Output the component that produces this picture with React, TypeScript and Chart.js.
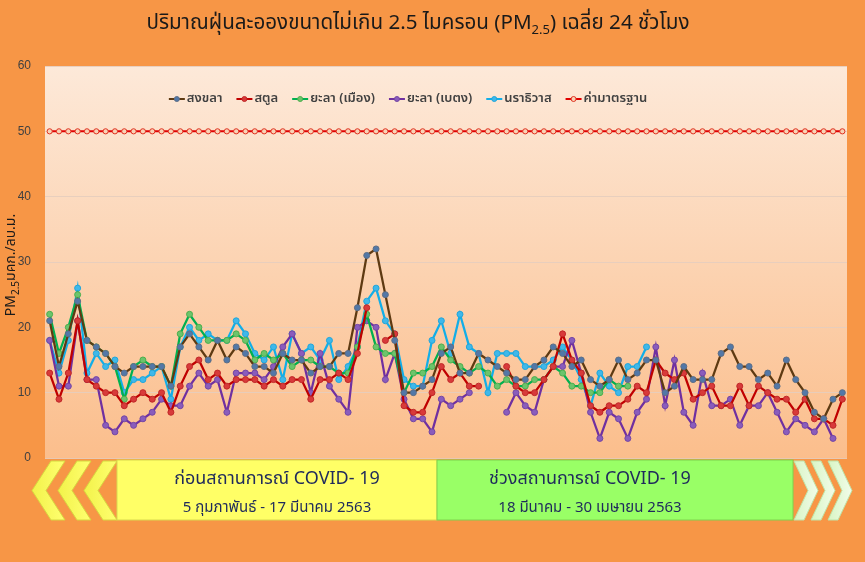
import React, { useEffect, useRef } from "react";
import { Chart, registerables } from "chart.js";

Chart.register(...registerables);

const FONT = "'Noto Sans Thai', 'Leelawadee UI', Tahoma, 'Noto Sans', 'DejaVu Sans', sans-serif";

// 5 Feb – 30 Apr 2563 (86 days)
const categories = [
  "5 ก.พ.", "6 ก.พ.", "7 ก.พ.", "8 ก.พ.", "9 ก.พ.", "10 ก.พ.", "11 ก.พ.", "12 ก.พ.", "13 ก.พ.", "14 ก.พ.",
  "15 ก.พ.", "16 ก.พ.", "17 ก.พ.", "18 ก.พ.", "19 ก.พ.", "20 ก.พ.", "21 ก.พ.", "22 ก.พ.", "23 ก.พ.", "24 ก.พ.",
  "25 ก.พ.", "26 ก.พ.", "27 ก.พ.", "28 ก.พ.", "29 ก.พ.",
  "1 มี.ค.", "2 มี.ค.", "3 มี.ค.", "4 มี.ค.", "5 มี.ค.", "6 มี.ค.", "7 มี.ค.", "8 มี.ค.", "9 มี.ค.", "10 มี.ค.",
  "11 มี.ค.", "12 มี.ค.", "13 มี.ค.", "14 มี.ค.", "15 มี.ค.", "16 มี.ค.", "17 มี.ค.", "18 มี.ค.", "19 มี.ค.", "20 มี.ค.",
  "21 มี.ค.", "22 มี.ค.", "23 มี.ค.", "24 มี.ค.", "25 มี.ค.", "26 มี.ค.", "27 มี.ค.", "28 มี.ค.", "29 มี.ค.", "30 มี.ค.",
  "31 มี.ค.",
  "1 เม.ย.", "2 เม.ย.", "3 เม.ย.", "4 เม.ย.", "5 เม.ย.", "6 เม.ย.", "7 เม.ย.", "8 เม.ย.", "9 เม.ย.", "10 เม.ย.",
  "11 เม.ย.", "12 เม.ย.", "13 เม.ย.", "14 เม.ย.", "15 เม.ย.", "16 เม.ย.", "17 เม.ย.", "18 เม.ย.", "19 เม.ย.", "20 เม.ย.",
  "21 เม.ย.", "22 เม.ย.", "23 เม.ย.", "24 เม.ย.", "25 เม.ย.", "26 เม.ย.", "27 เม.ย.", "28 เม.ย.", "29 เม.ย.", "30 เม.ย.",
];

const songkhla = [
  21, 14, 19, 24, 18, 17, 16, 14, 13, 14, 14, 14, 14, 11, 17, 19, 17, 15, 18, 15,
  17, 16, 14, 14, 13, 16, 15, 15, 13, 14, 14, 16, 16, 23, 31, 32, 25, 18, 10, 10,
  11, 12, 16, 17, 13, 13, 16, 15, 14, 13, 12, 12, 14, 15, 17, 16, 14, 15, 12, 11,
  12, 15, 12, 13, 15, 15, 10, 11, 14, 12, 12, 12, 16, 17, 14, 14, 12, 13, 11, 15,
  12, 10, 7, 6, 9, 10,
];

const satun = [
  13, 9, 13, 21, 12, 11, 10, 10, 8, 9, 10, 9, 10, 7, 11, 14, 15, 12, 13, 11,
  12, 12, 12, 11, 12, 11, 12, 12, 9, 12, 12, 13, 12, 16, 23, null, 18, 19, 8, 7,
  7, 10, 14, 12, 13, 11, 11, null, null, 14, 11, 10, 10, 12, 14, 19, 15, 13, 8, 7,
  8, 8, 9, 11, 10, 15, 13, 12, 13, 9, 10, 11, 8, 8, 11, 8, 11, 10, 9, 9,
  7, 9, 6, 6, 5, 9,
];

const yalaMueang = [
  22, 16, 20, 25, 18, 17, 16, 14, 9, 14, 15, 14, 14, 11, 19, 22, 20, 18, 18, 18,
  19, 18, 15, 16, 15, 16, 14, 15, 15, 14, 14, 13, 13, 17, 22, 17, 16, 16, 10, 13,
  13, 14, 17, 15, 14, 13, 14, 13, 11, 12, 11, 11, 12, 12, 14, 13, 11, 11, 10, 10,
  12, 11, 11, null, null, null, null, null, null, null, null, null, null, null, null, null,
  null, null, null, null, null, null,
];

const yalaBetong = [
  18, 11, 11, 21, 12, 12, 5, 4, 6, 5, 6, 7, 9, 8, 8, 11, 13, 11, 12, 7,
  13, 13, 13, 12, 14, 17, 19, 16, 10, 16, 11, 9, 7, 20, 21, 20, 12, 16, 9, 6,
  6, 4, 9, 8, 9, 10, null, null, null, 7, 10, 8, 7, 12, 14, 14, 18, 13, 7, 3,
  7, 6, 3, 7, 9, 17, 8, 15, 7, 5, 13, 8, 8, 9, 5, 8, 8, 10, 7, 4,
  6, 5, 4, 6, 3, null,
];

const narathiwat = [
  18, 13, 18, 26, 13, 16, 14, 15, 10, 12, 12, 13, 14, 9, 17, 20, 18, 19, 18, 18,
  21, 19, 16, 15, 17, 12, 19, 16, 17, 15, 18, 12, 14, 17, 24, 26, 21, 19, 12, 11,
  11, 18, 21, 16, 22, 17, 16, 10, 16, 16, 16, 14, 14, 14, 15, 17, 15, 12, 8, 13,
  11, 10, 14, 14, 17, null, null, null, null, null, null, null, null, null, null, null,
  null, null, null, null, null, null,
];

const standard = [
  50, 50, 50, 50, 50, 50, 50, 50, 50, 50, 50, 50, 50, 50, 50, 50, 50, 50, 50, 50,
  50, 50, 50, 50, 50, 50, 50, 50, 50, 50, 50, 50, 50, 50, 50, 50, 50, 50, 50, 50,
  50, 50, 50, 50, 50, 50, 50, 50, 50, 50, 50, 50, 50, 50, 50, 50, 50, 50, 50, 50,
  50, 50, 50, 50, 50, 50, 50, 50, 50, 50, 50, 50, 50, 50, 50, 50, 50, 50, 50, 50,
  50, 50, 50, 50, 50, 50,
];

const seriesLabels = ["สงขลา", "สตูล", "ยะลา (เมือง)", "ยะลา (เบตง)", "นราธิวาส", "ค่ามาตรฐาน"];
const yTicks = { min: 0, max: 60, step: 10 };

const plotBg = {
  id: "plotBg",
  beforeDraw(chart: any) {
    const { ctx, chartArea } = chart;
    if (!chartArea) return;
    ctx.save();
    const g = ctx.createLinearGradient(0, chartArea.top, 0, chartArea.bottom);
    g.addColorStop(0, "#FDE9D9");
    g.addColorStop(1, "#FBBE8C");
    ctx.fillStyle = g;
    ctx.fillRect(chartArea.left, chartArea.top, chartArea.right - chartArea.left, chartArea.bottom - chartArea.top);
    ctx.restore();
  },
};

const customLegend = {
  id: "customLegend",
  afterDraw(chart: any) {
    const ctx = chart.ctx;
    const dsets = chart.data.datasets;
    ctx.save();
    ctx.font = "600 13px " + FONT;
    ctx.textBaseline = "middle";
    const lineLen = 16;
    const gapText = 2;
    const gapItem = 14;
    const widths = dsets.map((d: any) => ctx.measureText(d.label).width);
    const total = widths.reduce((s: number, w: number) => s + lineLen + gapText + w, 0) + gapItem * (dsets.length - 1);
    let x = 408 - total / 2;
    const y = 99;
    dsets.forEach((d: any, i: number) => {
      ctx.strokeStyle = d.borderColor;
      ctx.lineWidth = 2;
      ctx.beginPath();
      ctx.moveTo(x, y);
      ctx.lineTo(x + lineLen, y);
      ctx.stroke();
      ctx.beginPath();
      ctx.arc(x + lineLen / 2, y, 2.5, 0, Math.PI * 2);
      ctx.fillStyle = d.pointBackgroundColor;
      ctx.fill();
      ctx.lineWidth = 1;
      ctx.strokeStyle = d.pointBorderColor;
      ctx.stroke();
      ctx.fillStyle = "#404040";
      ctx.fillText(d.label, x + lineLen + gapText, y);
      x += lineLen + gapText + widths[i] + gapItem;
    });
    ctx.restore();
  },
};

function mk(label: string, data: (number | null)[], line: string, pbg: string, pborder: string, width = 2.25, r = 3) {
  return {
    label,
    data,
    borderColor: line,
    backgroundColor: line,
    borderWidth: width,
    pointBackgroundColor: pbg,
    pointBorderColor: pborder,
    pointBorderWidth: 1,
    pointRadius: r,
    tension: 0,
    spanGaps: false,
    fill: false,
  };
}

function ChartView() {
  const ref = useRef<HTMLCanvasElement>(null);
  useEffect(() => {
    if (!ref.current) return;
    const chart = new Chart(ref.current, {
      type: "line",
      data: {
        labels: categories,
        datasets: [
          mk(seriesLabels[0], songkhla, "#5E3A12", "#5278A8", "#5D6E86"),
          mk(seriesLabels[1], satun, "#C00000", "#D83A3A", "#C02828"),
          mk(seriesLabels[2], yalaMueang, "#00B050", "#6CC46C", "#4DAE4D"),
          mk(seriesLabels[3], yalaBetong, "#7030A0", "#8A5CBC", "#7446A4"),
          mk(seriesLabels[4], narathiwat, "#12AEE8", "#3FB8EA", "#22A6DA"),
          mk(seriesLabels[5], standard, "#E00000", "#F9D3B6", "#E03020", 2, 2.6),
        ] as any,
      },
      options: {
        animation: false,
        responsive: false,
        maintainAspectRatio: false,
        layout: { padding: { top: 66, right: 18, bottom: 104, left: 0 } },
        plugins: {
          legend: { display: false },
          tooltip: { enabled: false },
          title: { display: false },
        },
        scales: {
          x: { display: false, offset: true },
          y: {
            min: yTicks.min,
            max: yTicks.max,
            afterFit: (axis: any) => {
              axis.width = 45;
            },
            ticks: {
              stepSize: yTicks.step,
              color: "#404040",
              padding: 14,
              font: { size: 12, family: "'Liberation Sans', Arial, sans-serif" },
            },
            grid: { color: "rgba(230,205,190,0.9)", drawTicks: false, lineWidth: 1 },
            border: { display: false },
          },
        },
      },
      plugins: [plotBg, customLegend],
    });
    return () => chart.destroy();
  }, []);
  return <canvas ref={ref} width={865} height={562} style={{ position: "absolute", left: 0, top: 0 }} />;
}

function ChevronLeft({ xl, y0, y1, d, t, fill, stroke }: any) {
  const ym = (y0 + y1) / 2;
  const pts = [
    [xl + d, y0], [xl + d + t, y0], [xl + t, ym], [xl + d + t, y1], [xl + d, y1], [xl, ym],
  ].map((p) => p.join(",")).join(" ");
  return <polygon points={pts} fill={fill} stroke={stroke} strokeWidth={1} />;
}

function ChevronRight({ xl, y0, y1, d, t, fill, stroke }: any) {
  const ym = (y0 + y1) / 2;
  const pts = [
    [xl, y0], [xl + t, y0], [xl + t + d, ym], [xl + t, y1], [xl, y1], [xl + d, ym],
  ].map((p) => p.join(",")).join(" ");
  return <polygon points={pts} fill={fill} stroke={stroke} strokeWidth={1} />;
}

export default function App() {
  const navy = "#1F2A5C";
  return (
    <div style={{ position: "fixed", left: 0, top: 0, width: 865, height: 562, background: "#F79646", overflow: "hidden", fontFamily: FONT }}>
      <ChartView />
      <div style={{ position: "absolute", left: 418, top: 7, transform: "translateX(-50%)", whiteSpace: "nowrap", fontSize: 20.6, color: "#1A1A1A" }}>
        ปริมาณฝุ่นละอองขนาดไม่เกิน 2.5 ไมครอน (PM<sub style={{ fontSize: 13 }}>2.5</sub>) เฉลี่ย 24 ชั่วโมง
      </div>
      <div style={{ position: "absolute", left: 12, top: 265, transform: "translate(-50%, -50%) rotate(-90deg)", whiteSpace: "nowrap", fontSize: 14, color: "#1A1A1A" }}>
        PM<sub style={{ fontSize: 10 }}>2.5</sub>มคก./ลบ.ม.
      </div>
      <svg width={865} height={562} style={{ position: "absolute", left: 0, top: 0 }}>
        <defs>
          <linearGradient id="yl" x1="0" y1="0" x2="1" y2="0">
            <stop offset="0" stopColor="#F2F24A" />
            <stop offset="1" stopColor="#FFFF70" />
          </linearGradient>
          <linearGradient id="gl" x1="0" y1="0" x2="1" y2="0">
            <stop offset="0" stopColor="#D8F5C4" />
            <stop offset="1" stopColor="#F2FCEA" />
          </linearGradient>
        </defs>
        <ChevronLeft xl={32} y0={461} y1={520} d={19} t={14} fill="url(#yl)" stroke="#D6D640" />
        <ChevronLeft xl={58} y0={461} y1={520} d={19} t={14} fill="url(#yl)" stroke="#D6D640" />
        <ChevronLeft xl={84} y0={461} y1={520} d={19} t={14} fill="url(#yl)" stroke="#D6D640" />
        <rect x={117} y={460} width={320} height={60} fill="#FFFF66" stroke="#D9D94E" strokeWidth={1} />
        <rect x={437} y={460} width={356} height={60} fill="#99FF66" stroke="#7ED24E" strokeWidth={1} />
        <ChevronRight xl={794} y0={461} y1={520} d={14} t={10} fill="url(#gl)" stroke="#BFE3A8" />
        <ChevronRight xl={811} y0={461} y1={520} d={14} t={10} fill="url(#gl)" stroke="#BFE3A8" />
        <ChevronRight xl={828} y0={461} y1={520} d={14} t={10} fill="url(#gl)" stroke="#BFE3A8" />
      </svg>
      <div style={{ position: "absolute", left: 117, width: 320, top: 465, textAlign: "center", color: navy }}>
        <div style={{ fontSize: 18, lineHeight: "28px" }}>ก่อนสถานการณ์ COVID- 19</div>
        <div style={{ fontSize: 15, lineHeight: "30px" }}>5 กุมภาพันธ์ - 17 มีนาคม 2563</div>
      </div>
      <div style={{ position: "absolute", left: 437, width: 306, top: 465, textAlign: "center", color: navy }}>
        <div style={{ fontSize: 18, lineHeight: "28px" }}>ช่วงสถานการณ์ COVID- 19</div>
        <div style={{ fontSize: 15, lineHeight: "30px" }}>18 มีนาคม - 30 เมษายน 2563</div>
      </div>
    </div>
  );
}
